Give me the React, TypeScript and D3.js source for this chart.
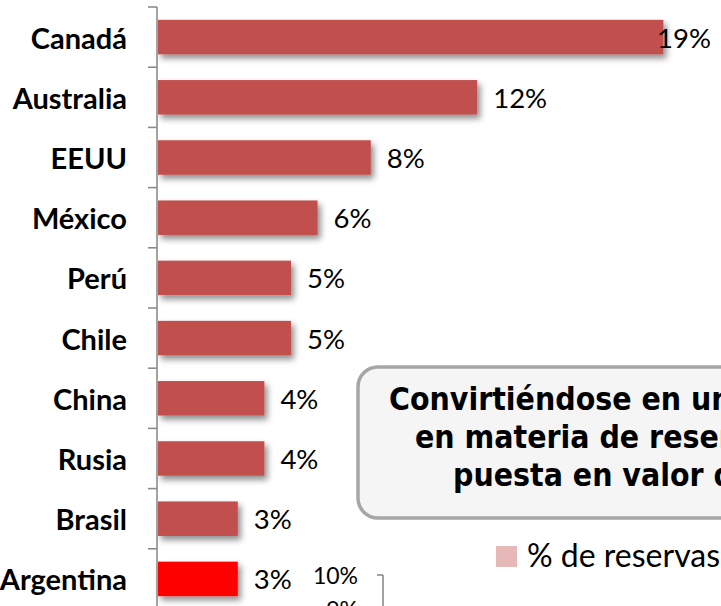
import React from "react";
import * as d3 from "d3";

const categories = ["Canadá", "Australia", "EEUU", "México", "Perú", "Chile", "China", "Rusia", "Brasil", "Argentina"];
const values = [19, 12, 8, 6, 5, 5, 4, 4, 3, 3];
const highlight = "Argentina";
const calloutLines = ["Convirtiéndose en un referente mundial", "en materia de reservas y", "puesta en valor de recursos"];
const legendLabel = "% de reservas";
const secondTicks = [10, 9];

const W = 721;
const H = 606;

export default function App() {
  const x = d3.scaleLinear().domain([0, 20]).range([158, 690]);
  const y = d3
    .scaleBand<string>()
    .domain(categories)
    .range([7, 609])
    .paddingInner(0.427)
    .paddingOuter(0.2135);
  const step = y.step();
  const tickYs = d3.range(categories.length + 1).map((i) => 7 + i * step);

  const y2 = d3.scaleLinear().domain([10, 9]).range([575, 609]);

  const labelFont = "Lato, 'Open Sans', sans-serif";
  const boxFont = "'DejaVu Sans Condensed', 'DejaVu Sans', sans-serif";
  const lineStarts = [389, 415, 453];
  const baselines = [410, 448, 486];

  return (
    <div style={{ position: "absolute", left: 0, top: 0 }}>
      <svg width={W} height={H} viewBox={`0 0 ${W} ${H}`} style={{ display: "block", background: "#fff" }}>
        <defs>
          <filter id="shadow" x="-10%" y="-30%" width="130%" height="180%">
            <feDropShadow dx="3" dy="4" stdDeviation="3" floodColor="#000" floodOpacity="0.45" />
          </filter>
          <clipPath id="clip">
            <rect x={0} y={0} width={W} height={H} />
          </clipPath>
        </defs>
        <g clipPath="url(#clip)">
          {categories.map((c, i) => (
            <rect
              key={c}
              x={x(0)}
              y={y(c)!}
              width={x(values[i]) - x(0)}
              height={y.bandwidth()}
              fill={c === highlight ? "#FF0000" : "#C0504D"}
              filter="url(#shadow)"
            />
          ))}
          <line x1={157} x2={157} y1={tickYs[0]} y2={H + 10} stroke="#8c8c8c" strokeWidth={1.6} />
          {tickYs.map((t, i) => (
            <line key={i} x1={148} x2={157} y1={t} y2={t} stroke="#8c8c8c" strokeWidth={1.6} />
          ))}
          {categories.map((c) => (
            <text
              key={c}
              x={127}
              y={y(c)! + y.bandwidth() / 2}
              textAnchor="end"
              dominantBaseline="central"
              fontFamily={labelFont}
              fontWeight="bold"
              fontSize={29}
              fill="#000"
            >
              {c}
            </text>
          ))}
          {categories.map((c, i) => {
            const end = x(values[i]);
            const overflow = end + 16 + 54 > 711;
            return (
              <text
                key={c}
                x={overflow ? 711 : end + 16}
                y={y(c)! + y.bandwidth() / 2}
                textAnchor={overflow ? "end" : "start"}
                dominantBaseline="central"
                fontFamily={labelFont}
                fontSize={27.5}
                fill="#000"
              >
                {values[i]}%
              </text>
            );
          })}
          <rect x={358} y={367} width={420} height={151} rx={20} ry={20} fill="#F5F5F5" stroke="#A6A6A6" strokeWidth={3.5} />
          {calloutLines.map((l, i) => (
            <text
              key={i}
              x={lineStarts[i]}
              y={baselines[i]}
              fontFamily={boxFont}
              fontWeight="bold"
              fontSize={31.7}
              fill="#000"
            >
              {l}
            </text>
          ))}
          <rect x={496} y={546} width={21} height={21} fill="#E6B9B8" />
          <text x={527} y={567} fontFamily={labelFont} fontSize={32} fill="#000">
            {legendLabel}
          </text>
          <line x1={383} x2={383} y1={y2(10)} y2={H + 10} stroke="#8c8c8c" strokeWidth={1.6} />
          {secondTicks.map((t) => (
            <g key={t}>
              <line x1={377} x2={383} y1={y2(t)} y2={y2(t)} stroke="#8c8c8c" strokeWidth={1.6} />
              <text
                x={358}
                y={y2(t)}
                textAnchor="end"
                dominantBaseline="central"
                fontFamily={labelFont}
                fontSize={23}
                fill="#000"
              >
                {t}%
              </text>
            </g>
          ))}
        </g>
      </svg>
    </div>
  );
}
